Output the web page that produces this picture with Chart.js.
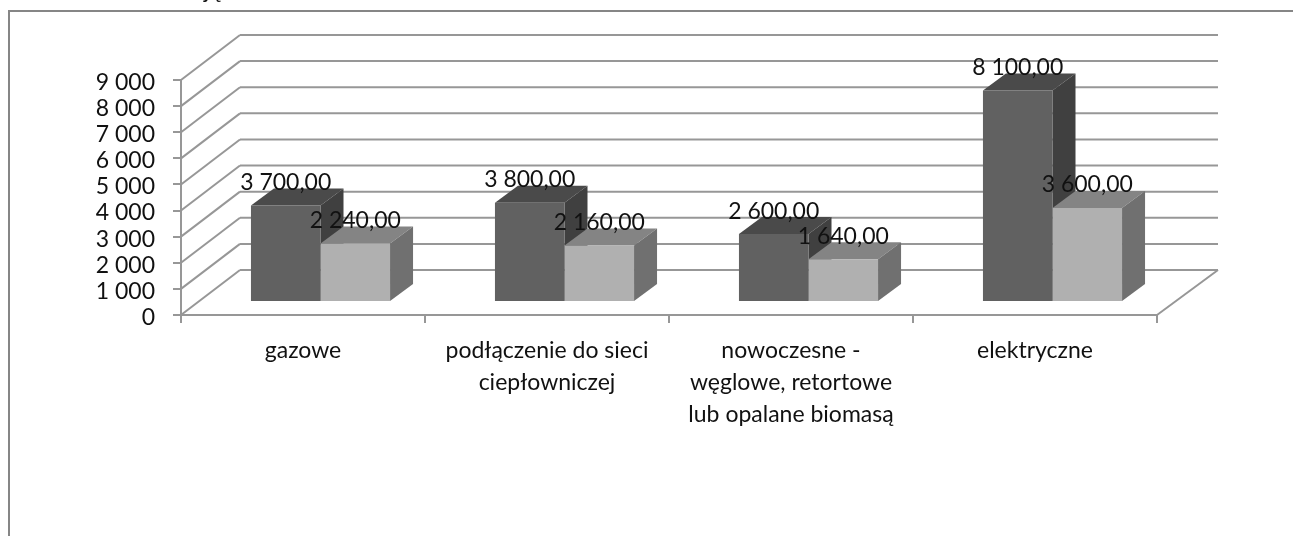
<!DOCTYPE html>
<html>
<head>
<meta charset="utf-8">
<script src="https://cdn.jsdelivr.net/npm/chart.js@4"></script>
<style>
    html, body { margin: 0; padding: 0; background: #fff; overflow: hidden; }
    canvas { display: block; }
</style>
</head>
<body>
<canvas id="heatingChart" width="1293" height="536"></canvas>
<script>
// Data
const categories = [
    'gazowe',
    ['podłączenie do sieci', 'ciepłowniczej'],
    ['nowoczesne -', 'węglowe, retortowe', 'lub opalane biomasą'],
    'elektryczne'
];
const darkValues = [3700, 3800, 2600, 8100];
const lightValues = [2240, 2160, 1640, 3600];
const yTicks = [0, 1000, 2000, 3000, 4000, 5000, 6000, 7000, 8000, 9000];

// Look of the fake 3D
const fontName = 'Lato, "Open Sans", sans-serif';
const gridColor = '#979797';
const wallDepth = { left: 59, right: 61, y: -45 };
const barShift = { x: 17.5, y: -13 };
const barDepth = { x: 23, y: -17 };
const darkFaces = { front: '#616161', top: '#4a4a4a', side: '#404040' };
const lightFaces = { front: '#b0b0b0', top: '#848484', side: '#707070' };

// 3 700,00 / 9 000
const spaced = (value) => String(value).replace(/\B(?=(\d{3})+$)/g, ' ');
const withDecimals = (value) => spaced(value) + ',00';

const line = (ctx, x1, y1, x2, y2) => {
    ctx.beginPath();
    ctx.moveTo(x1, y1);
    ctx.lineTo(x2, y2);
    ctx.stroke();
};

const face = (ctx, points, color) => {
    ctx.fillStyle = color;
    ctx.beginPath();
    points.forEach(([x, y], i) => i ? ctx.lineTo(x, y) : ctx.moveTo(x, y));
    ctx.closePath();
    ctx.fill();
};

// Walls and floor, everything comes from the scales
const drawWalls = (chart) => {
    const { ctx, scales: { x, y } } = chart;
    const backLeft = x.left + wallDepth.left, backRight = x.right + wallDepth.right;
    ctx.save();
    ctx.strokeStyle = gridColor;
    ctx.lineWidth = 2;
    yTicks.forEach((tick) => {
        const py = y.getPixelForValue(tick);
        line(ctx, x.left, py, backLeft, py + wallDepth.y);
        line(ctx, backLeft, py + wallDepth.y, backRight, py + wallDepth.y);
    });
    const floor = y.getPixelForValue(0);
    line(ctx, x.right, floor, backRight, floor + wallDepth.y);
    ctx.restore();
};

// Top and side of each bar, taken from the bar element itself
const drawBarDepth = (chart) => {
    const { ctx } = chart;
    const dx = barDepth.x, dy = barDepth.y;
    ctx.save();
    ctx.translate(barShift.x, barShift.y);
    chart.data.datasets.forEach((dataset, i) => {
        chart.getDatasetMeta(i).data.forEach((bar) => {
            const { x, y, base, width } = bar.getProps(['x', 'y', 'base', 'width'], true);
            const l = x - width / 2, r = x + width / 2;
            face(ctx, [[l, y], [r, y], [r + dx, y + dy], [l + dx, y + dy]], dataset.faces.top);
            face(ctx, [[r, y], [r + dx, y + dy], [r + dx, base + dy], [r, base]], dataset.faces.side);
        });
    });
    ctx.restore();
};

const drawValueLabels = (chart) => {
    const { ctx } = chart;
    ctx.save();
    ctx.font = '23px ' + fontName;
    ctx.fillStyle = '#111';
    ctx.textAlign = 'center';
    ctx.textBaseline = 'middle';
    chart.data.datasets.forEach((dataset, i) => {
        chart.getDatasetMeta(i).data.forEach((bar, j) => {
            const { x, y } = bar.getProps(['x', 'y'], true);
            ctx.fillText(withDecimals(dataset.data[j]), x + barShift.x, y + barShift.y - 23);
        });
    });
    ctx.restore();
};

const fake3d = {
    id: 'fake3d',
    beforeDraw(chart) {
        const { ctx } = chart;
        ctx.save();
        // Frame of the chart, cut off by the right and bottom of the picture
        ctx.strokeStyle = '#868686';
        ctx.lineWidth = 2;
        ctx.strokeRect(9, 11, 1300, 540);
        // Only the tails of the title above the frame are left in the crop
        ctx.font = '23px ' + fontName;
        ctx.fillStyle = '#111';
        ctx.fillText('ją', 204, -2);
        ctx.restore();
    },
    beforeDatasetsDraw(chart) {
        drawWalls(chart);
        drawBarDepth(chart);
        // the front faces stand in front of the wall, so push the native bars too
        chart.ctx.save();
        chart.ctx.translate(barShift.x, barShift.y);
    },
    afterDatasetsDraw(chart) {
        chart.ctx.restore();
        drawValueLabels(chart);
    }
};

const createHeatingChart = () => {
    const ctx = document.getElementById('heatingChart').getContext('2d');
    new Chart(ctx, {
        type: 'bar',
        data: {
            labels: categories,
            datasets: [
                { data: darkValues, backgroundColor: darkFaces.front, faces: darkFaces },
                { data: lightValues, backgroundColor: lightFaces.front, faces: lightFaces }
            ]
        },
        options: {
            responsive: false,
            animation: false,
            barPercentage: 1,
            categoryPercentage: 0.57,
            layout: { padding: { top: 80, right: 136 } },
            plugins: {
                legend: { display: false },
                title: { display: false },
                tooltip: { enabled: false }
            },
            scales: {
                y: {
                    min: 0,
                    max: 9000,
                    afterFit: (scale) => { scale.width = 181; },
                    afterBuildTicks: (scale) => { scale.ticks = yTicks.map((value) => ({ value })); },
                    border: { color: gridColor, width: 2 },
                    grid: { drawOnChartArea: false, color: gridColor, lineWidth: 2, tickLength: 8 },
                    ticks: {
                        callback: (value) => spaced(value),
                        color: '#111',
                        padding: 18,
                        labelOffset: 2.5,
                        autoSkip: false,
                        font: { family: fontName, size: 23 }
                    }
                },
                x: {
                    afterFit: (scale) => { scale.height = 221; },
                    border: { color: gridColor, width: 2 },
                    grid: { drawOnChartArea: false, color: gridColor, lineWidth: 2, tickLength: 8 },
                    ticks: {
                        color: '#111',
                        padding: 11,
                        maxRotation: 0,
                        autoSkip: false,
                        font: { family: fontName, size: 23, lineHeight: 1.41 }
                    }
                }
            }
        },
        plugins: [fake3d]
    });
};

createHeatingChart();
</script>
</body>
</html>
